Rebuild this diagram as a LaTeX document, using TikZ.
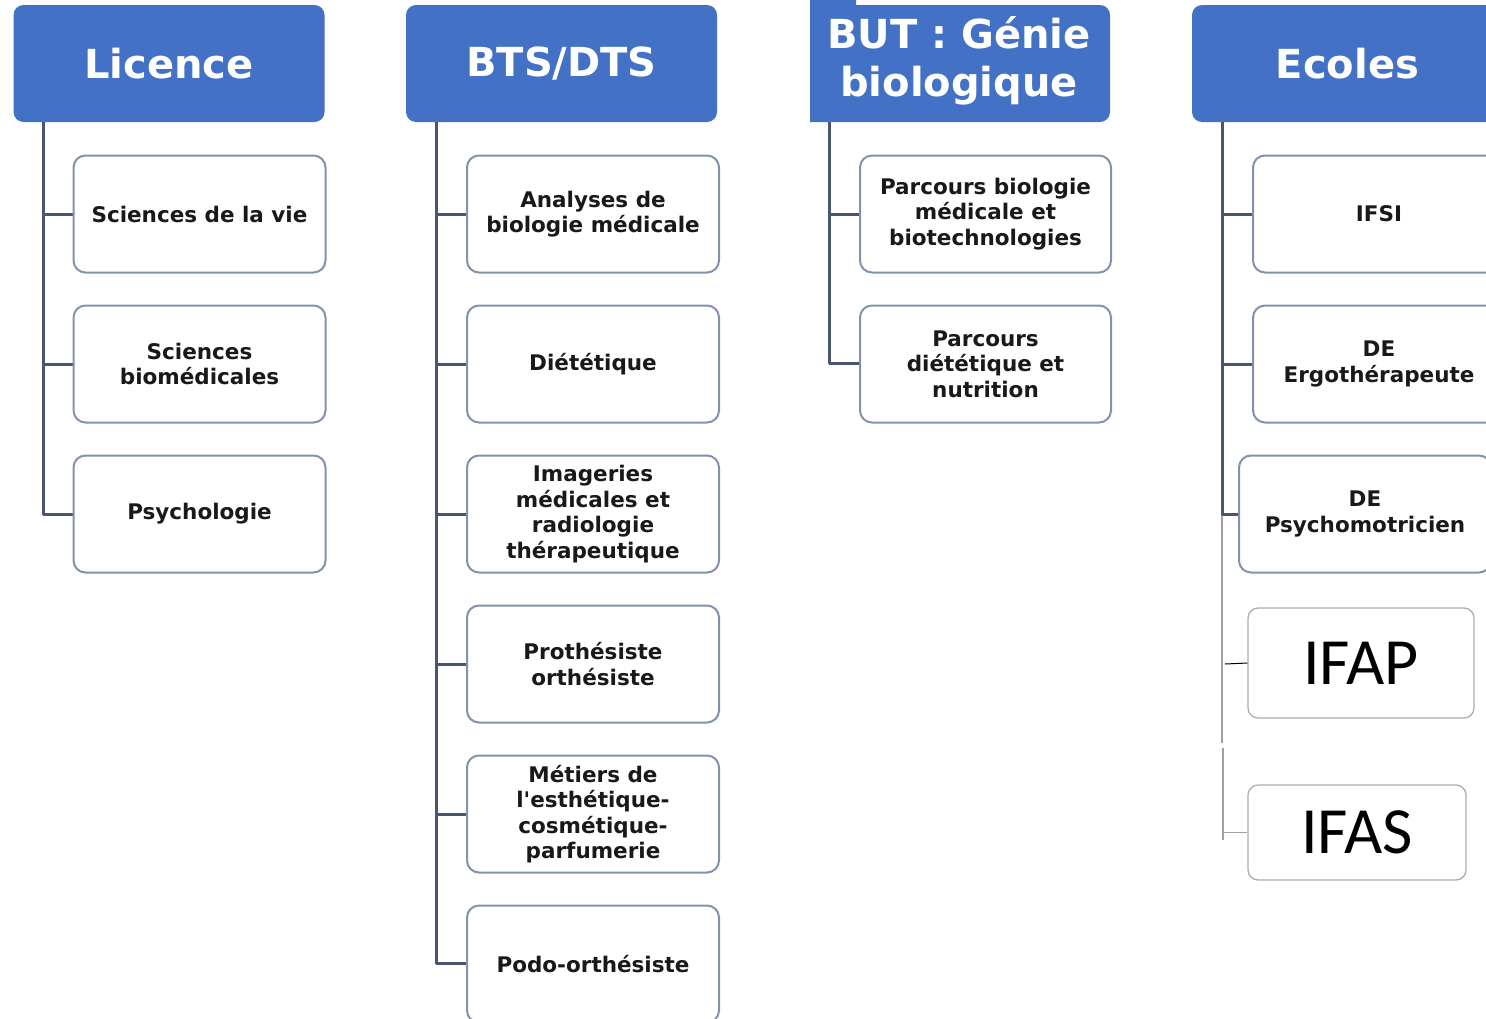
\documentclass[tikz,border=0pt]{standalone}
\usepackage{fontspec}
\setmainfont{DejaVu Sans}
\newfontfamily\ifaxfont{Carlito}
\usetikzlibrary{arrows}

\definecolor{headfill}{RGB}{66,113,198}
\definecolor{trunkcol}{RGB}{72,86,112}
\definecolor{boxline}{RGB}{128,146,172}
\definecolor{inkcol}{RGB}{25,25,25}

\tikzset{
  head/.style={fill=headfill, rounded corners=10pt, minimum width=311pt, minimum height=117pt,
    text=white, font=\fontsize{40}{48}\selectfont\bfseries, align=center, inner sep=0pt},
  leaf/.style={draw=boxline, line width=2pt, fill=white, rounded corners=12pt,
    minimum width=252pt, minimum height=117pt, text=inkcol,
    font=\fontsize{21.5}{25.5}\selectfont\bfseries, align=center, inner sep=0pt},
  bigleaf/.style={draw=gray!65, line width=1.3pt, fill=white, rounded corners=10pt,
    text=black, font=\ifaxfont\fontsize{66}{70}\selectfont, inner sep=0pt},
  trunk/.style={draw=trunkcol, line width=3pt},
  thintrunk/.style={draw=gray!75, line width=1.5pt},
}

\begin{document}
\begin{tikzpicture}[x=1pt,y=-1pt,line join=round]
\useasboundingbox (0,0) rectangle (1486,1018);
\clip (0,0) rectangle (1486,1018);

% Node: Licence
\node[head] (lic) at (169,63.5) {Licence};
\coordinate (licTop) at (43,122);

% Node: BTS/DTS
\node[head] (bts) at (561.5,63.5) {BTS/DTS};
\coordinate (btsTop) at (436,122);

% Node: BUT
\fill[headfill] (810,0) -- (856,0) -- (856,5) [rounded corners=10pt] -- (1110,5) -- (1110,122) [sharp corners] -- (810,122) -- cycle;
\node[text=white, font=\fontsize{40}{48}\selectfont\bfseries, align=center] (but) at (959,61) {BUT : Génie\\biologique};
\coordinate (butTop) at (829,122);

% Node: Ecoles
\node[head] (eco) at (1347.5,63.5) {Ecoles};
\coordinate (ecoTop) at (1222,122);
\coordinate (ecoLow) at (1223,748);

% Edges: Licence -> leaves
\draw[trunk] (licTop) |- (73,214);
\draw[trunk] (licTop) |- (73,364);
\draw[trunk] (licTop) |- (73,514);

% Edges: BTS/DTS -> leaves
\draw[trunk] (btsTop) |- (467,214);
\draw[trunk] (btsTop) |- (467,364);
\draw[trunk] (btsTop) |- (467,514);
\draw[trunk] (btsTop) |- (467,664);
\draw[trunk] (btsTop) |- (467,814);
\draw[trunk] (btsTop) |- (467,963);

% Edges: BUT -> leaves
\draw[trunk] (butTop) |- (860,214);
\draw[trunk] (butTop) |- (860,363);

% Edges: Ecoles -> leaves
\draw[thintrunk] (ecoTop) -- (1222,743);
\draw[trunk] (ecoTop) |- (1253,214);
\draw[trunk] (ecoTop) |- (1253,364);
\draw[trunk] (ecoTop) |- (1239,514);

% Node: Licence leaves
\node[leaf] (licA) at (199.5,214) {Sciences de la vie};
\node[leaf] (licB) at (199.5,364) {Sciences\\biomédicales};
\node[leaf] (licC) at (199.5,514) {Psychologie};

% Node: BTS/DTS leaves
\node[leaf] (btsA) at (593,214) {Analyses de\\biologie médicale};
\node[leaf] (btsB) at (593,364) {Diététique};
\node[leaf] (btsC) at (593,514) {Imageries\\médicales et\\radiologie\\thérapeutique};
\node[leaf] (btsD) at (593,664) {Prothésiste\\orthésiste};
\node[leaf] (btsE) at (593,814) {Métiers de\\l\textquotesingle esthétique-\\cosmétique-\\parfumerie};
\node[leaf] (btsF) at (593,964) {Podo-orthésiste};

% Node: BUT leaves
\node[leaf, minimum width=251pt] (butA) at (985.5,214) {Parcours biologie\\médicale et\\biotechnologies};
\node[leaf, minimum width=251pt] (butB) at (985.5,364) {Parcours\\diététique et\\nutrition};

% Node: Ecoles leaves
\node[leaf] (ecoA) at (1379,214) {IFSI};
\node[leaf] (ecoB) at (1379,364) {DE\\Ergothérapeute};
\node[leaf] (ecoC) at (1365,514) {DE\\Psychomotricien};
\node[bigleaf, minimum width=226pt, minimum height=110pt] (ecoD) at (1361,663) {IFAP};
\node[bigleaf, minimum width=218pt, minimum height=95pt] (ecoE) at (1357,832.5) {IFAS};

% Edge: Ecoles -> IFAP
\draw[black, line width=1pt] (1225,664) -- (ecoD.west);
% Edge: Ecoles -> IFAS
\draw[thintrunk] (ecoLow) -- (1223,840);
\draw[thintrunk] (ecoLow) |- (ecoE.west);
%
\end{tikzpicture}
\end{document}
